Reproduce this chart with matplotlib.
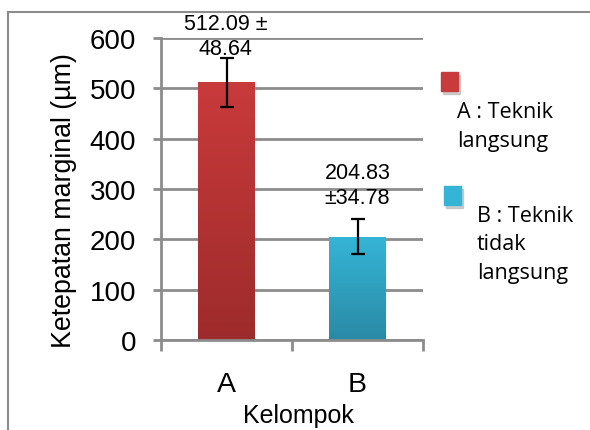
import matplotlib.pyplot as plt
import numpy as np
from matplotlib.colors import LinearSegmentedColormap
from matplotlib.lines import Line2D

groups = ["A", "B"]
means = [512.09, 204.83]
errors = [48.64, 34.78]
labels_top = ["512.09 ±\n48.64", "204.83\n±34.78"]
legend_labels = ["A : Teknik\nlangsung", "B : Teknik\ntidak\nlangsung"]
yticks = [0, 100, 200, 300, 400, 500, 600]

colors_top = ["#c93a3b", "#35b5d6"]
colors_bot = ["#9e2b2b", "#2a8aa6"]

plt.rcParams['font.family'] = ['Liberation Sans', 'DejaVu Sans']

fig = plt.figure(figsize=(5.9, 4.31), dpi=100)
ax = fig.add_axes([0.273, 0.209, 0.444, 0.7005])

x = np.arange(1, len(groups) + 1)
bars = ax.bar(x, means, width=0.43, color=colors_top, zorder=2)

# vertical gradient inside each bar
for b, ct, cb in zip(bars, colors_top, colors_bot):
    cmap = LinearSegmentedColormap.from_list("g", [cb, ct])
    grad = np.linspace(0, 1, 100).reshape(-1, 1)
    x0, y0 = b.get_x(), b.get_y()
    im = ax.imshow(grad, cmap=cmap, aspect="auto", origin="lower",
                   extent=[x0, x0 + b.get_width(), y0, y0 + b.get_height()], zorder=2)
    im.set_clip_path(b)

ax.errorbar(x, means, yerr=errors, fmt="none", ecolor="black",
            elinewidth=1.6, capsize=5, capthick=1.6, zorder=3)

ax.text(0.99, 603, labels_top[0], ha="center", va="center", fontsize=15.5,
        linespacing=1.25)
ax.text(2.0, 307, labels_top[1], ha="center", va="center", fontsize=15.5,
        linespacing=1.25)

ax.set_xlim(0.5, 2.5)
ax.set_ylim(0, 600)
ax.set_yticks(yticks)
ax.set_yticklabels([str(v) for v in yticks], fontsize=20)
ax.set_xticks([0.5, 1.5, 2.5])
ax.set_xticklabels([])
ax.tick_params(axis="x", length=8, width=2, color="#8c8c8c", direction="out")
ax.tick_params(axis="y", length=6, width=2, color="#8c8c8c", direction="out", pad=12)
for xi, g in zip(x, groups):
    ax.text(xi, -88, g, ha="center", va="center", fontsize=20.5)
ax.text(1.55, -150, "Kelompok", ha="center", va="center", fontsize=18)
ax.set_ylabel("Ketepatan marginal (µm)", fontsize=19.3)
ax.yaxis.set_label_coords(-0.32, 0.464)

ax.grid(axis="y", color="#8c8c8c", linewidth=2, zorder=0)
ax.set_axisbelow(True)
for s in ["top", "right"]:
    ax.spines[s].set_visible(False)
for s in ["left", "bottom"]:
    ax.spines[s].set_color("#8c8c8c")
    ax.spines[s].set_linewidth(2)

# legend drawn as squares (with soft shadow) + text
lf = ['Open Sans', 'DejaVu Sans']
for (sx, sy), c in zip([(441, 92), (444, 206)], colors_top):
    fig.patches.append(plt.Rectangle(((sx + 2) / 590, 1 - (sy + 3) / 431), 17 / 590, 19 / 431,
                                     transform=fig.transFigure, color="#b0b0b0", alpha=0.6))
    fig.patches.append(plt.Rectangle((sx / 590, 1 - sy / 431), 17 / 590, 19 / 431,
                                     transform=fig.transFigure, color=c))
fig.text(457 / 590, 1 - 127 / 431, legend_labels[0], ha="left", va="center",
         fontsize=15.5, family=lf, linespacing=1.45)
fig.text(477 / 590, 1 - 245 / 431, legend_labels[1], ha="left", va="center",
         fontsize=15.5, family=lf, linespacing=1.45)

# outer frame
fig.lines.append(Line2D([8 / 590, 8 / 590], [0, 1 - 13 / 431], transform=fig.transFigure,
                        color="#8c8c8c", linewidth=1.5))
fig.lines.append(Line2D([8 / 590, 1], [1 - 13 / 431, 1 - 13 / 431], transform=fig.transFigure,
                        color="#8c8c8c", linewidth=1.5))

fig.savefig("out.png", dpi=100)
